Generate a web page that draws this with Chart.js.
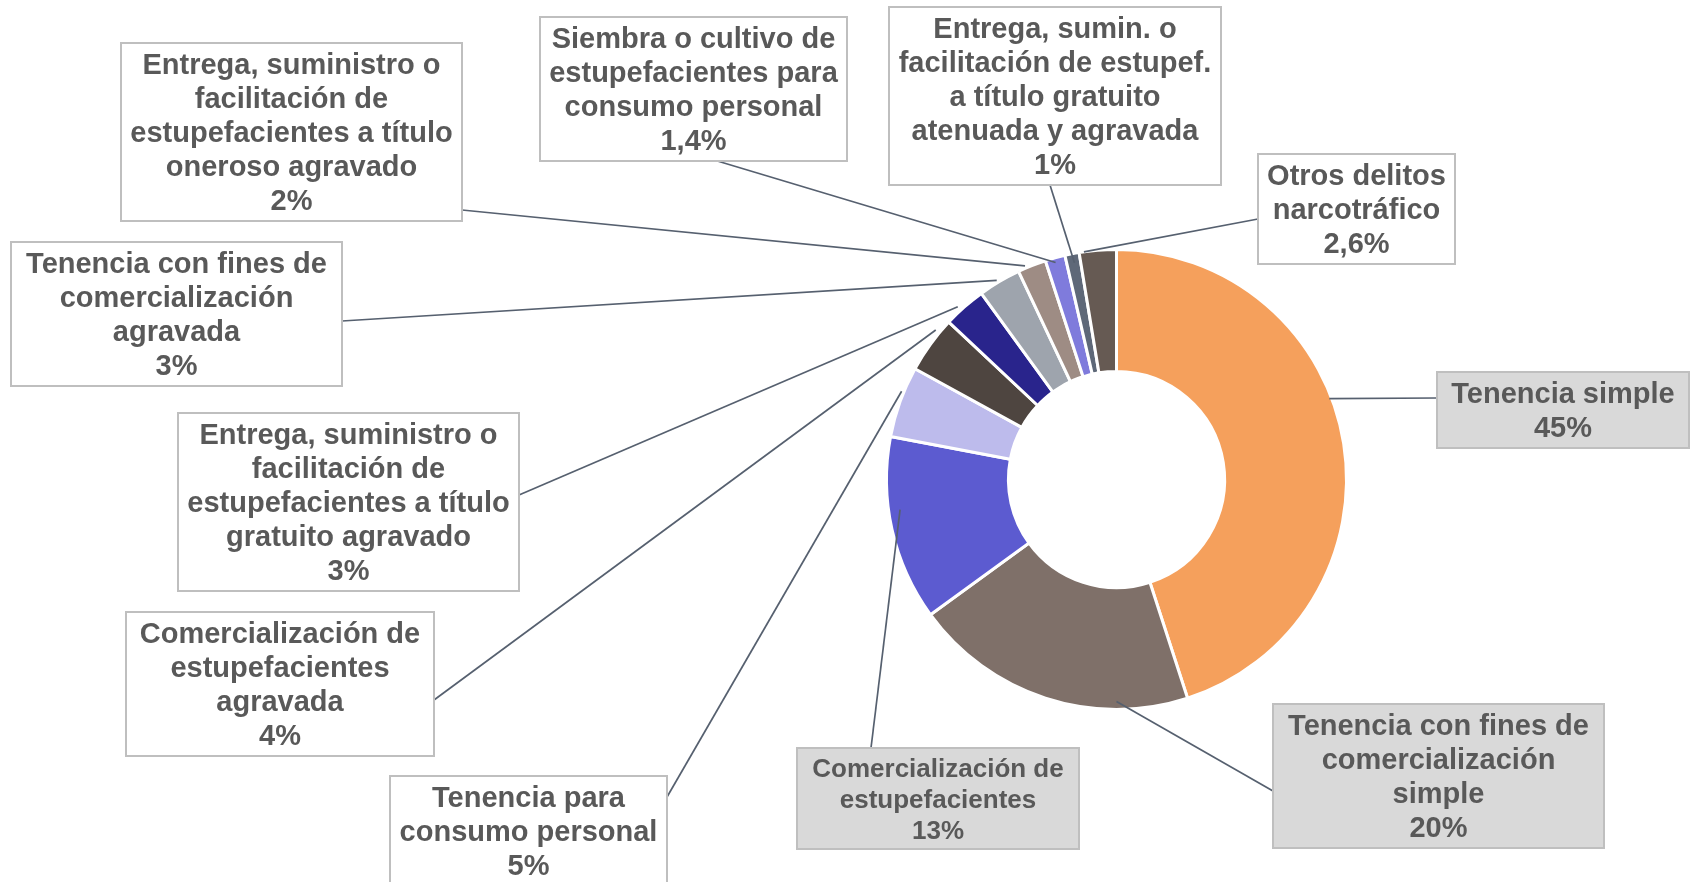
<!DOCTYPE html>
<html>
<head>
<meta charset="utf-8">
<script src="https://cdn.jsdelivr.net/npm/chart.js@4"></script>
<style>
  html, body { margin: 0; padding: 0; background: #fff; }
  #wrap { width: 1690px; height: 882px; }
</style>
</head>
<body>
<div id="wrap"><canvas id="drugChart" width="1690" height="882"></canvas></div>
<script>
// categories (line breaks as in the source chart)
const categories = [
    ['Tenencia simple'],
    ['Tenencia con fines de', 'comercialización', 'simple'],
    ['Comercialización de', 'estupefacientes'],
    ['Tenencia para', 'consumo personal'],
    ['Comercialización de', 'estupefacientes', 'agravada'],
    ['Entrega, suministro o', 'facilitación de', 'estupefacientes a título', 'gratuito agravado'],
    ['Tenencia con fines de', 'comercialización', 'agravada'],
    ['Entrega, suministro o', 'facilitación de', 'estupefacientes a título', 'oneroso agravado'],
    ['Siembra o cultivo de', 'estupefacientes para', 'consumo personal'],
    ['Entrega, sumin. o', 'facilitación de estupef.', 'a título gratuito', 'atenuada y agravada'],
    ['Otros delitos', 'narcotráfico']
];
const values = [45, 20, 13, 5, 4, 3, 3, 2, 1.4, 1, 2.6];
const colors = ['#f5a05c', '#7f7069', '#5c5bd0', '#bdbbec', '#4e4540', '#29248c',
                '#9ea4ad', '#9e8c84', '#7f7bdc', '#5e6878', '#665a53'];

// label box layout: x, y, width, fill, connection point on box, anchor on slice (t = fraction of arc, rf = radius factor)
const boxes = [
    { x: 1437, y: 372, w: 252, fill: '#d9d9d9', px: 1437, py: 398, t: 0.427, rf: 0.99 },
    { x: 1273, y: 704, w: 331, fill: '#d9d9d9', px: 1273, py: 791, t: 0.25, rf: 0.965 },
    { x: 797,  y: 748, w: 282, fill: '#d9d9d9', px: 871,  py: 748, t: 0.6, rf: 0.95, size: 26, lh: 31 },
    { x: 390,  y: 776, w: 277, fill: '#ffffff', px: 667,  py: 797, t: 0.64, rf: 1.01 },
    { x: 126,  y: 612, w: 308, fill: '#ffffff', px: 434,  py: 700, t: 0.75, rf: 1.02 },
    { x: 178,  y: 413, w: 341, fill: '#ffffff', px: 519,  py: 495, t: 0.39, rf: 1.02 },
    { x: 11,   y: 242, w: 331, fill: '#ffffff', px: 342,  py: 321, t: 0.46, rf: 1.01 },
    { x: 121,  y: 43,  w: 341, fill: '#ffffff', px: 462,  py: 210, t: 0.28, rf: 1.01 },
    { x: 540,  y: 17,  w: 307, fill: '#ffffff', px: 714,  py: 160, t: 0.46, rf: 0.98 },
    { x: 889,  y: 7,   w: 332, fill: '#ffffff', px: 1050, py: 185, t: 0.55, rf: 0.96 },
    { x: 1258, y: 154, w: 197, fill: '#ffffff', px: 1258, py: 219, t: 0.13, rf: 1.0 }
];

function pct(v) {
    return String(v).replace('.', ',') + '%';
}

const calloutPlugin = {
    id: 'callouts',
    afterDatasetsDraw(chart) {
        const ctx = chart.ctx;
        const arcs = chart.getDatasetMeta(0).data;
        ctx.save();
        // leader lines
        ctx.strokeStyle = '#56606f';
        ctx.lineWidth = 1.7;
        boxes.forEach((b, i) => {
            const a = arcs[i].getProps(['x', 'y', 'startAngle', 'endAngle', 'outerRadius'], true);
            const ang = a.startAngle + b.t * (a.endAngle - a.startAngle);
            const ax = a.x + Math.cos(ang) * a.outerRadius * b.rf;
            const ay = a.y + Math.sin(ang) * a.outerRadius * b.rf;
            ctx.beginPath();
            ctx.moveTo(ax, ay);
            ctx.lineTo(b.px, b.py);
            ctx.stroke();
        });
        // boxes with text
        boxes.forEach((b, i) => {
            const size = b.size || 29;
            const lh = b.lh || 34;
            const lines = categories[i].concat([pct(values[i])]);
            const h = lines.length * lh + 8;
            ctx.fillStyle = b.fill;
            ctx.fillRect(b.x, b.y, b.w, h);
            ctx.strokeStyle = '#bfbfbf';
            ctx.lineWidth = 2;
            ctx.strokeRect(b.x, b.y, b.w, h);
            ctx.fillStyle = '#595959';
            ctx.font = 'bold ' + size + 'px "Liberation Sans", Arial, sans-serif';
            ctx.textAlign = 'center';
            ctx.textBaseline = 'middle';
            lines.forEach((ln, j) => {
                ctx.fillText(ln, b.x + b.w / 2, b.y + 6 + lh / 2 + j * lh);
            });
        });
        ctx.restore();
    }
};

const ctx = document.getElementById('drugChart').getContext('2d');
new Chart(ctx, {
    type: 'doughnut',
    data: {
        labels: categories,
        datasets: [{
            data: values,
            backgroundColor: colors,
            borderColor: '#ffffff',
            borderWidth: 3
        }]
    },
    options: {
        responsive: false,
        animation: false,
        cutout: '47%',
        layout: {
            padding: { left: 885, right: 342, top: 248, bottom: 171 }
        },
        plugins: {
            legend: { display: false },
            tooltip: { enabled: false }
        }
    },
    plugins: [calloutPlugin]
});
</script>
</body>
</html>
